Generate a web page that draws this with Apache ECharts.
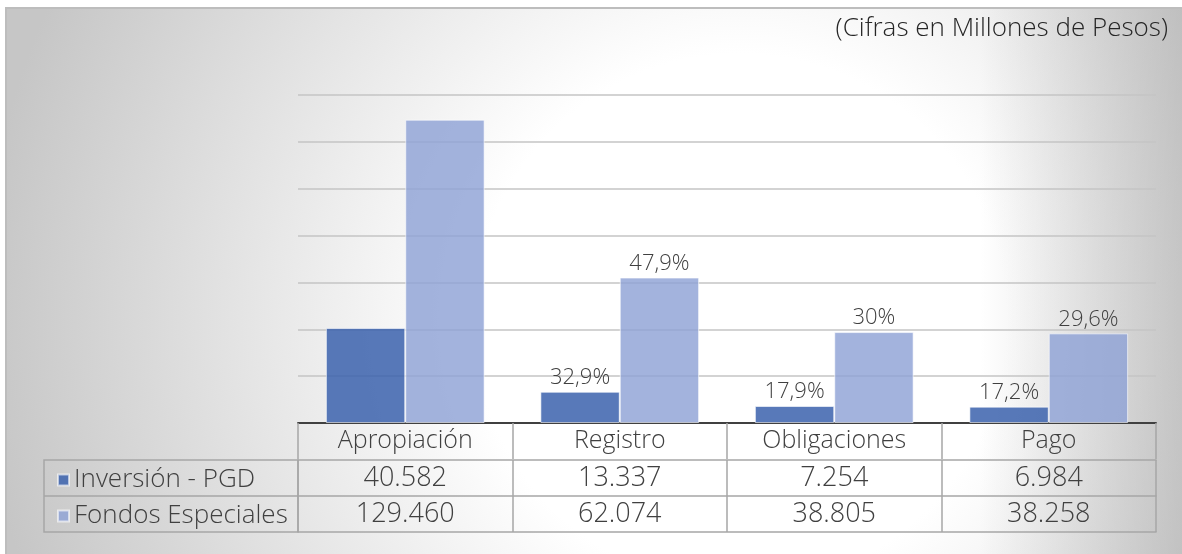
<!DOCTYPE html>
<html>
<head>
<meta charset="utf-8">
<title>Inversión - PGD vs Fondos Especiales</title>
<script src="https://cdn.jsdelivr.net/npm/echarts@6/dist/echarts.min.js"></script>
<style>
  html, body { margin: 0; padding: 0; background: #fff; }
  #chart { width: 1182px; height: 554px; }
</style>
</head>
<body>
<div id="chart"></div>
<script>
// datos (millones de pesos)
const categories = ['Apropiación', 'Registro', 'Obligaciones', 'Pago'];
const inversion = [40582, 13337, 7254, 6984];
const fondos = [129460, 62074, 38805, 38258];
const seriesNames = ['Inversión - PGD', 'Fondos Especiales'];

const FONT = '"Open Sans", Lato, sans-serif';
const TEXT = '#404040';

// 129460 -> "129.460"
function miles(v) {
  return String(v).replace(/\B(?=(\d{3})+(?!\d))/g, '.');
}

// porcentaje frente a la apropiación, "47,9%" / "30%"
function pct(values, i) {
  if (i === 0) return '';
  let s = (values[i] / values[0] * 100).toFixed(1);
  if (s.endsWith('.0')) s = s.slice(0, -2);
  return s.replace('.', ',') + '%';
}

function tableAxis(offset, formatter, lineColor, lineWidth, showTick, size) {
  return {
    type: 'category',
    data: categories,
    position: 'bottom',
    offset: offset,
    axisLine: { show: true, lineStyle: { color: lineColor, width: lineWidth } },
    axisTick: {
      show: showTick,
      interval: 0,
      length: 36,
      lineStyle: { color: '#a6a6a6', width: 1.5 }
    },
    axisLabel: {
      show: !!formatter,
      interval: 0,
      margin: 18,
      verticalAlign: 'middle',
      fontSize: size,
      fontFamily: FONT,
      fontWeight: 300,
      color: TEXT,
      formatter: formatter
    },
    splitLine: { show: false }
  };
}

// una leyenda por fila de la tabla
function rowLegend(name, top) {
  return {
    data: [name],
    left: 52,
    top: top,
    itemWidth: 11,
    itemHeight: 11,
    icon: 'rect',
    selectedMode: false,
    textStyle: { fontSize: 26, fontWeight: 300, fontFamily: FONT, color: TEXT }
  };
}

let myChart = echarts.init(document.getElementById('chart'));

let option = {
  animation: false,
  title: {
    text: '(Cifras en Millones de Pesos)',
    right: 9,
    top: 11,
    textStyle: { fontSize: 26, fontWeight: 300, fontFamily: FONT, color: '#262626' }
  },
  legend: [
    rowLegend(seriesNames[0], 462),
    rowLegend(seriesNames[1], 498)
  ],
  graphic: [
    {
      type: 'rect',
      z: -10,
      shape: { x: 6, y: 8, width: 1190, height: 560 },
      style: {
        fill: new echarts.graphic.RadialGradient(740, 320, 760, [
          { offset: 0, color: '#ffffff' },
          { offset: 0.35, color: '#ffffff' },
          { offset: 1, color: '#c6c6c6' }
        ], true),
        stroke: '#bdbdbd',
        lineWidth: 2
      }
    },
    {
      type: 'rect',
      z: -9,
      shape: { x: 980, y: 9, width: 210, height: 560 },
      style: {
        fill: new echarts.graphic.LinearGradient(980, 0, 1182, 0, [
          { offset: 0, color: 'rgba(160,160,160,0)' },
          { offset: 1, color: 'rgba(160,160,160,0.5)' }
        ], true)
      }
    },
    // columna de la leyenda
    {
      type: 'rect',
      z: 5,
      shape: { x: 44, y: 460, width: 254, height: 72 },
      style: { fill: 'none', stroke: '#a6a6a6', lineWidth: 1.5 }
    },
    {
      type: 'line',
      z: 5,
      shape: { x1: 44, y1: 496, x2: 298, y2: 496 },
      style: { stroke: '#a6a6a6', lineWidth: 1.5 }
    }
  ],
  grid: {
    left: 298,
    right: 26,
    top: 95,
    bottom: 131
  },
  xAxis: [
    tableAxis(0, v => v, '#404040', 2, true, 25),
    tableAxis(37, (v, i) => miles(inversion[i]), '#a6a6a6', 1.5, true, 27),
    tableAxis(73, (v, i) => miles(fondos[i]), '#a6a6a6', 1.5, true, 27),
    tableAxis(109, null, '#a6a6a6', 1.5, false, 25)
  ],
  yAxis: {
    type: 'value',
    min: 0,
    max: 140000,
    interval: 20000,
    axisLabel: { show: false },
    axisLine: { show: false },
    axisTick: { show: false },
    splitLine: { lineStyle: { color: '#c4c4c4', width: 1.5 } }
  },
  series: [
    {
      name: seriesNames[0],
      type: 'bar',
      data: inversion,
      barGap: '0%',
      barCategoryGap: '26%',
      itemStyle: {
        color: 'rgba(59,98,173,0.85)',
        borderColor: 'rgba(255,255,255,0.6)',
        borderWidth: 1
      },
      label: {
        show: true,
        position: 'top',
        distance: 3,
        fontSize: 22,
        fontWeight: 300,
        fontFamily: FONT,
        color: TEXT,
        formatter: p => pct(inversion, p.dataIndex)
      }
    },
    {
      name: seriesNames[1],
      type: 'bar',
      data: fondos,
      itemStyle: {
        color: 'rgba(143,162,214,0.82)',
        borderColor: 'rgba(255,255,255,0.6)',
        borderWidth: 1
      },
      label: {
        show: true,
        position: 'top',
        distance: 3,
        fontSize: 22,
        fontWeight: 300,
        fontFamily: FONT,
        color: TEXT,
        formatter: p => pct(fondos, p.dataIndex)
      }
    }
  ]
};

myChart.setOption(option, true);

window.addEventListener('resize', () => {
  myChart.resize();
});
</script>
</body>
</html>
